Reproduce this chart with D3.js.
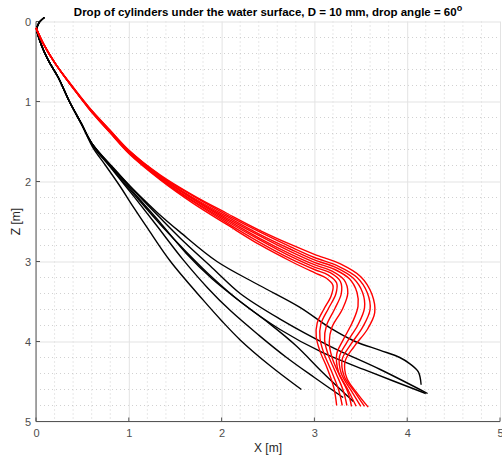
<!DOCTYPE html>
<html>
<head>
<meta charset="utf-8">
<script src="https://cdn.jsdelivr.net/npm/d3@7"></script>
<style>
	body { margin: 0; background: #fff; }
	svg { display: block; font-family: 'Liberation Sans', Arial, sans-serif; }
	.tick text { fill: #4d4d4d; font-size: 11px; }
	.labels__text { fill: #262626; font-size: 12px; }
</style>
</head>
<body>
<svg></svg>
<script>
// tick values
const xTicks = [0, 1, 2, 3, 4, 5];
const zTicks = [0, 1, 2, 3, 4, 5];

// black runs, [x, z] in metres
const blackA = [[0.09,-0.05],[0.03,0.02],[0.01,0.10],[0.06,0.30],[0.13,0.48],[0.24,0.70],[0.36,1.00],[0.49,1.28],[0.61,1.57],[0.75,1.80],[0.90,2.05],[1.05,2.32],[1.20,2.58],[1.45,3.00],[1.80,3.48],[2.00,3.74],[2.20,3.98],[2.52,4.30],[2.86,4.60]];
const blackB = [[0.09,-0.05],[0.03,0.02],[0.01,0.10],[0.06,0.30],[0.13,0.48],[0.24,0.70],[0.36,1.00],[0.49,1.28],[0.61,1.55],[0.80,1.82],[1.05,2.18],[1.30,2.55],[1.58,2.97],[1.85,3.33],[2.10,3.62],[2.40,3.92],[2.70,4.20],[3.00,4.45],[3.31,4.70]];
const blackC = [[0.09,-0.05],[0.03,0.02],[0.01,0.10],[0.06,0.30],[0.13,0.48],[0.24,0.70],[0.36,1.00],[0.49,1.28],[0.60,1.52],[0.85,1.86],[1.10,2.20],[1.35,2.53],[1.62,2.90],[1.90,3.22],[2.20,3.50],[2.52,3.78],[2.80,4.05],[3.10,4.40],[3.42,4.75]];
const blackD = [[0.09,-0.05],[0.03,0.02],[0.01,0.10],[0.06,0.30],[0.13,0.48],[0.24,0.70],[0.36,1.00],[0.49,1.28],[0.60,1.52],[0.85,1.85],[1.10,2.17],[1.35,2.47],[1.60,2.76],[1.90,3.08],[2.20,3.40],[2.63,3.72],[3.17,4.06],[3.71,4.35],[4.22,4.65]];
const blackD2 = [[0.09,-0.05],[0.03,0.02],[0.01,0.10],[0.06,0.30],[0.13,0.48],[0.24,0.70],[0.36,1.00],[0.49,1.28],[0.60,1.52],[0.85,1.88],[1.10,2.22],[1.35,2.55],[1.62,2.88],[1.90,3.20],[2.20,3.50],[2.63,3.85],[3.09,4.14],[3.60,4.38],[4.20,4.65]];
const blackE = [[0.09,-0.05],[0.03,0.02],[0.01,0.10],[0.06,0.30],[0.13,0.48],[0.24,0.70],[0.36,1.00],[0.49,1.28],[0.60,1.52],[0.80,1.80],[1.05,2.10],[1.30,2.38],[1.55,2.63],[1.95,3.00],[2.41,3.30],[2.84,3.57],[3.17,3.83],[3.44,4.00],[3.71,4.11],[3.92,4.20],[4.03,4.28],[4.12,4.38],[4.15,4.54]];

// red runs
const red1 = [[0,0.08],[0.08,0.28],[0.21,0.53],[0.38,0.80],[0.57,1.09],[0.79,1.38],[1.00,1.65],[1.34,1.98],[1.69,2.27],[2.06,2.54],[2.41,2.79],[2.75,3.00],[3.00,3.14],[3.13,3.21],[3.20,3.30],[3.18,3.43],[3.10,3.60],[3.03,3.77],[3.02,3.94],[3.06,4.12],[3.14,4.34],[3.21,4.58],[3.24,4.80]];
const red2 = [[0,0.08],[0.08,0.28],[0.21,0.53],[0.38,0.80],[0.57,1.09],[0.79,1.38],[1.00,1.64],[1.34,1.97],[1.69,2.25],[2.06,2.52],[2.41,2.76],[2.75,2.97],[3.00,3.10],[3.15,3.17],[3.24,3.27],[3.23,3.41],[3.15,3.59],[3.07,3.78],[3.06,3.96],[3.10,4.14],[3.18,4.36],[3.26,4.60],[3.30,4.80]];
const red3 = [[0,0.08],[0.08,0.28],[0.21,0.53],[0.38,0.80],[0.57,1.08],[0.79,1.37],[1.00,1.64],[1.34,1.96],[1.69,2.24],[2.06,2.50],[2.41,2.73],[2.75,2.94],[3.00,3.07],[3.17,3.14],[3.28,3.25],[3.29,3.40],[3.22,3.59],[3.13,3.80],[3.11,3.98],[3.15,4.17],[3.23,4.39],[3.31,4.61],[3.35,4.80]];
const red4 = [[0,0.08],[0.08,0.28],[0.21,0.53],[0.38,0.80],[0.57,1.08],[0.79,1.37],[1.00,1.63],[1.34,1.95],[1.69,2.22],[2.06,2.48],[2.41,2.71],[2.75,2.91],[3.00,3.04],[3.19,3.12],[3.32,3.23],[3.36,3.39],[3.30,3.60],[3.19,3.82],[3.16,4.01],[3.19,4.20],[3.27,4.42],[3.36,4.63],[3.40,4.81]];
const red5 = [[0,0.08],[0.08,0.28],[0.21,0.53],[0.38,0.80],[0.57,1.08],[0.79,1.36],[1.00,1.63],[1.34,1.94],[1.69,2.21],[2.06,2.46],[2.41,2.68],[2.75,2.88],[3.00,3.01],[3.22,3.10],[3.38,3.22],[3.46,3.39],[3.47,3.56],[3.41,3.76],[3.31,3.98],[3.24,4.16],[3.26,4.38],[3.36,4.60],[3.45,4.81]];
const red6 = [[0,0.08],[0.08,0.28],[0.21,0.53],[0.38,0.80],[0.57,1.08],[0.79,1.36],[1.00,1.62],[1.34,1.94],[1.69,2.20],[2.06,2.44],[2.41,2.66],[2.75,2.85],[3.00,2.98],[3.24,3.08],[3.42,3.21],[3.52,3.39],[3.54,3.58],[3.47,3.79],[3.35,4.01],[3.27,4.19],[3.29,4.40],[3.40,4.62],[3.50,4.81]];
const red7 = [[0,0.08],[0.08,0.28],[0.21,0.53],[0.38,0.80],[0.57,1.07],[0.79,1.35],[1.00,1.61],[1.34,1.93],[1.69,2.18],[2.06,2.42],[2.41,2.63],[2.75,2.82],[3.00,2.95],[3.26,3.06],[3.46,3.20],[3.57,3.39],[3.60,3.60],[3.52,3.82],[3.39,4.04],[3.30,4.22],[3.32,4.43],[3.44,4.64],[3.54,4.81]];
const red8 = [[0,0.08],[0.08,0.28],[0.21,0.53],[0.38,0.79],[0.57,1.07],[0.79,1.35],[1.00,1.61],[1.34,1.92],[1.69,2.17],[2.06,2.40],[2.41,2.61],[2.75,2.79],[3.00,2.91],[3.28,3.03],[3.50,3.19],[3.62,3.41],[3.65,3.64],[3.57,3.85],[3.43,4.06],[3.33,4.25],[3.35,4.46],[3.47,4.66],[3.58,4.82]];

const blackRuns = [blackA, blackB, blackC, blackD, blackD2, blackE];
const redRuns = [red1, red2, red3, red4, red5, red6, red7, red8];

const width = 502;
const height = 459;
const margin = { top: 21.5, right: 2, bottom: 37.5, left: 36 };
const innerWidth = width - margin.left - margin.right;
const innerHeight = height - margin.top - margin.bottom;

const svg = d3.select('svg')
	.attr('width', width)
	.attr('height', height);

const xScale = d3.scaleLinear().domain([0, 5]).range([0, innerWidth]);
const yScale = d3.scaleLinear().domain([0, 5]).range([0, innerHeight]);

const g = svg.append('g')
	.attr('transform', `translate(${margin.left},${margin.top})`);

// minor grid, dotted
const minor = d3.range(0, 5.001, 0.2).filter(v => Math.abs(v - Math.round(v)) > 1e-6);
g.append('g').selectAll('line').data(minor)
	.enter().append('line')
		.attr('x1', d => xScale(d)).attr('x2', d => xScale(d))
		.attr('y1', 0).attr('y2', innerHeight)
		.attr('stroke', '#bdbdbd').attr('stroke-width', 0.7)
		.attr('stroke-dasharray', '1,3');
g.append('g').selectAll('line').data(minor)
	.enter().append('line')
		.attr('y1', d => yScale(d)).attr('y2', d => yScale(d))
		.attr('x1', 0).attr('x2', innerWidth)
		.attr('stroke', '#bdbdbd').attr('stroke-width', 0.7)
		.attr('stroke-dasharray', '1,3');

// major grid
const xAxis = d3.axisBottom(xScale).tickValues(xTicks).tickFormat(d3.format('d'))
	.tickSize(-innerHeight).tickPadding(8);
const yAxis = d3.axisLeft(yScale).tickValues(zTicks).tickFormat(d3.format('d'))
	.tickSize(-innerWidth).tickPadding(5);

const xAxisGroup = g.append('g')
	.attr('transform', `translate(0,${innerHeight})`)
	.call(xAxis);
const yAxisGroup = g.append('g').call(yAxis);

[xAxisGroup, yAxisGroup].forEach(ax => {
	ax.select('.domain').remove();
	ax.selectAll('.tick line').attr('stroke', '#e3e3e3').attr('stroke-width', 1);
});

// axis lines and small inward ticks
g.append('line').attr('x1', 0).attr('x2', innerWidth).attr('y1', innerHeight).attr('y2', innerHeight)
	.attr('stroke', '#555').attr('stroke-width', 1);
g.append('line').attr('x1', 0).attr('x2', 0).attr('y1', 0).attr('y2', innerHeight)
	.attr('stroke', '#555').attr('stroke-width', 1);
g.append('g').selectAll('line').data(xTicks)
	.enter().append('line')
		.attr('x1', d => xScale(d)).attr('x2', d => xScale(d))
		.attr('y1', innerHeight).attr('y2', innerHeight - 4)
		.attr('stroke', '#555');
g.append('g').selectAll('line').data(zTicks)
	.enter().append('line')
		.attr('y1', d => yScale(d)).attr('y2', d => yScale(d))
		.attr('x1', 0).attr('x2', 4)
		.attr('stroke', '#555');

const line = d3.line()
	.x(d => xScale(d[0]))
	.y(d => yScale(d[1]))
	.curve(d3.curveCatmullRom);

g.append('g').selectAll('path').data(blackRuns)
	.enter().append('path')
		.attr('d', line)
		.attr('fill', 'none')
		.attr('stroke', '#000')
		.attr('stroke-width', 1.4);

g.append('g').selectAll('path').data(redRuns)
	.enter().append('path')
		.attr('d', line)
		.attr('fill', 'none')
		.attr('stroke', '#ff0000')
		.attr('stroke-width', 1.4);

// labels
xAxisGroup.append('text')
	.attr('x', innerWidth / 2)
	.attr('y', 30)
	.attr('class', 'labels__text')
	.attr('text-anchor', 'middle')
	.text('X [m]');

g.append('text')
	.attr('class', 'labels__text')
	.attr('text-anchor', 'middle')
	.attr('transform', `translate(${-16},${innerHeight / 2}) rotate(-90)`)
	.text('Z [m]');

const title = svg.append('text')
	.attr('x', margin.left + innerWidth / 2)
	.attr('y', 16)
	.attr('text-anchor', 'middle')
	.attr('font-weight', 'bold')
	.attr('font-size', 11.5)
	.attr('fill', '#000');
title.append('tspan').text('Drop of cylinders under the water surface, D = 10 mm, drop angle = 60');
title.append('tspan').attr('dy', -5).attr('font-size', 9).text('o');
</script>
</body>
</html>
